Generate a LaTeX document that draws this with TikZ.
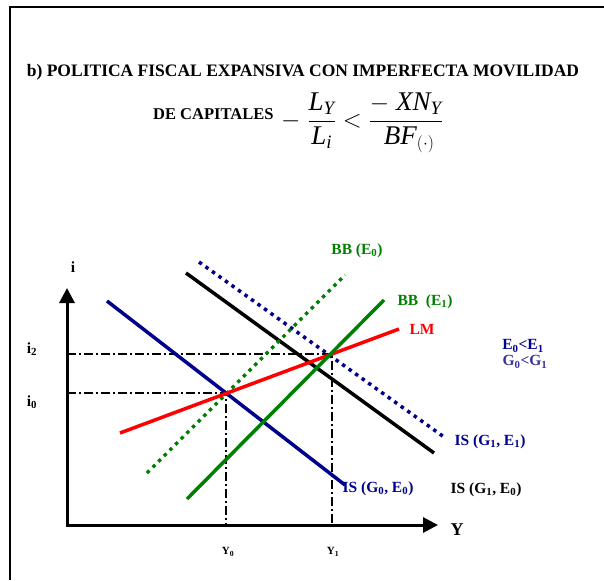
\documentclass[tikz,border=0pt]{standalone}
\usepackage{fontspec}
\setmainfont{Liberation Serif}
\usepackage{amsmath}
\usetikzlibrary{arrows.meta}
\definecolor{isblue}{RGB}{0,0,140}
\definecolor{bbgreen}{RGB}{0,128,0}
\definecolor{lmred}{RGB}{255,0,0}
\definecolor{notablue}{RGB}{51,51,153}

\begin{document}
\begin{tikzpicture}[x=1pt,y=-1pt,
  curve/.style={line width=3.5pt},
  dotcurve/.style={line width=3.5pt,dash pattern=on 3.5pt off 4.5pt},
  guide/.style={line width=1.2pt,dash pattern=on 9pt off 3pt on 2pt off 3pt},
  lbl/.style={font=\bfseries\fontsize{15.5}{17}\selectfont,inner sep=0pt},
  axtip/.tip={Triangle[length=15pt,width=15pt]}]
  \useasboundingbox (0,0) rectangle (604,580);
  \draw[line width=2.5pt] (10,580) -- (10,7) -- (604,7);
  \node[font=\bfseries\fontsize{17.5}{20}\selectfont,inner sep=0pt] (title) at (303,72)
    {b) POLITICA FISCAL EXPANSIVA CON IMPERFECTA MOVILIDAD};
  \node[lbl,font=\bfseries\fontsize{16.5}{18}\selectfont,anchor=base west] (cap) at (153,120) {DE CAPITALES};
  \node[font=\fontsize{27}{30}\selectfont,inner sep=0pt,anchor=west] (cond) at (281,123)
    {$\displaystyle -\;\frac{\mathit{L}_{\mathit{Y}}}{\mathit{L}_{\mathit{i}}}
      < \frac{-\;\mathit{XN}_{\mathit{Y}}}{\;\mathit{BF}_{(\cdot)}}$};

  \coordinate (O) at (67,525); \coordinate (itop) at (67,288); \coordinate (yend) at (438,525);
  \coordinate (E0) at (226,393); \coordinate (E2) at (332,354);
  \draw[guide] (E2 -| O) -- (E2) -- (E2 |- O);
  \draw[guide] (E0 -| O) -- (E0) -- (E0 |- O);
  \draw[line width=3pt,axtip-axtip] (itop) -- (O) -- (yend);

  \coordinate (is11a) at (199,262); \coordinate (is11b) at (444,437);
  \coordinate (is10a) at (186,273); \coordinate (is10b) at (434,453);
  \coordinate (is00a) at (107,301); \coordinate (is00b) at (345,485);
  \coordinate (bb0a) at (147,473);  \coordinate (bb0b) at (345,275);
  \coordinate (lma) at (120,433);   \coordinate (lmb) at (399,329);
  \coordinate (bb1a) at (187,499);  \coordinate (bb1b) at (384,300);
  \draw[dotcurve,isblue] (is11a) -- (is11b);
  \draw[curve,black] (is10a) -- (is10b);
  \draw[curve,isblue] (is00a) -- (is00b);
  \draw[dotcurve,bbgreen] (bb0a) -- (bb0b);
  \draw[curve,lmred] (lma) -- (lmb);
  \draw[curve,bbgreen] (bb1a) -- (bb1b);

  \node[lbl] (ilab) at (73,267) {i};
  \node[lbl] (i2lab) at (32,349) {i\textsubscript{2}};
  \node[lbl] (i0lab) at (32,402) {i\textsubscript{0}};
  \node[lbl,font=\bfseries\fontsize{18}{20}\selectfont] (ylab) at (457,530) {Y};
  \node[lbl,font=\bfseries\fontsize{11}{12}\selectfont] (y0lab) at (228,552) {Y\textsubscript{0}};
  \node[lbl,font=\bfseries\fontsize{11}{12}\selectfont] (y1lab) at (333,552) {Y\textsubscript{1}};
  \node[lbl,bbgreen] (bb0lab) at (357,251) {BB (E\textsubscript{0})};
  \node[lbl,bbgreen] (bb1lab) at (425,302) {BB\ \ (E\textsubscript{1})};
  \node[lbl,lmred] (lmlab) at (422,329) {LM};
  \node[lbl,isblue] (elab) at (523,346) {E\textsubscript{0}<E\textsubscript{1}};
  \node[lbl,notablue] (glab) at (525,362) {G\textsubscript{0}<G\textsubscript{1}};
  \node[lbl,isblue] (is11lab) at (490,442) {IS (G\textsubscript{1}, E\textsubscript{1})};
  \node[lbl,isblue] (is00lab) at (378,489) {IS (G\textsubscript{0}, E\textsubscript{0})};
  \node[lbl] (is10lab) at (486,490) {IS (G\textsubscript{1}, E\textsubscript{0})};
\end{tikzpicture}
\end{document}
